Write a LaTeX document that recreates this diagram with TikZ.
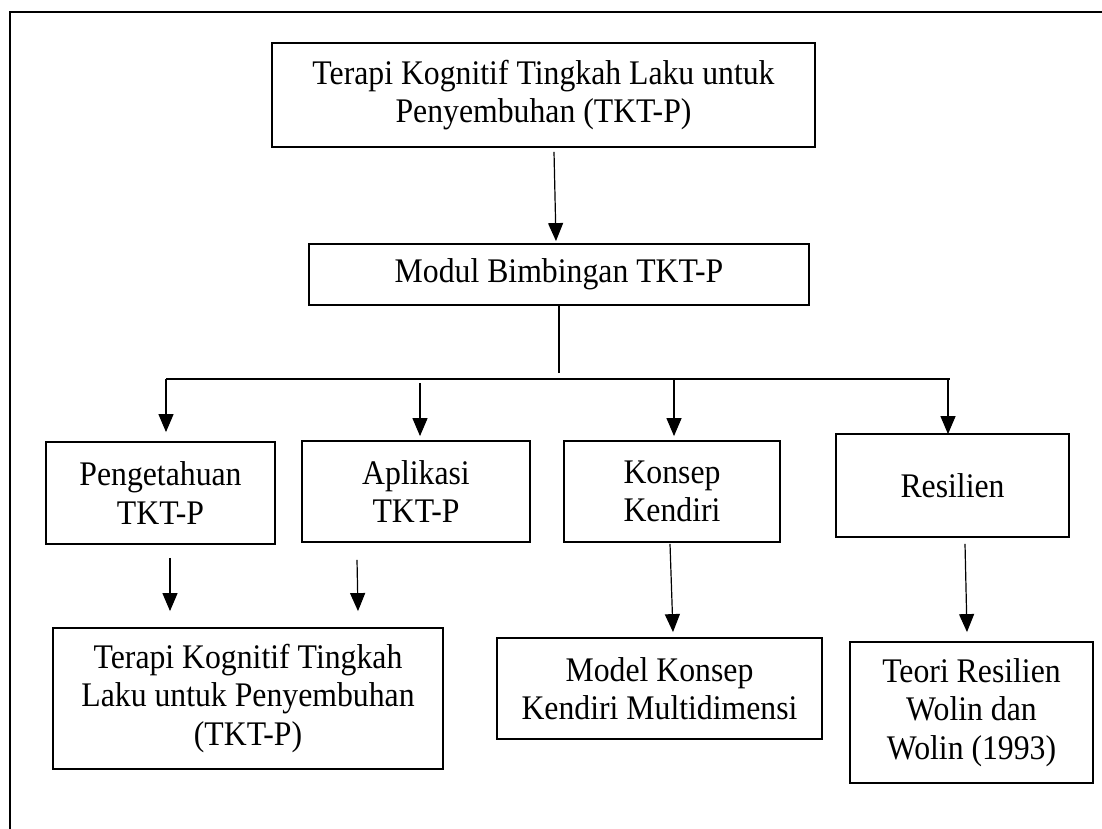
\documentclass[tikz,border=0pt]{standalone}
\usepackage{fontspec}
\setmainfont{Liberation Serif}[FakeStretch=0.92]
\usetikzlibrary{arrows.meta}
\begin{document}
\begin{tikzpicture}[x=1pt,y=-1pt,
  box/.style={draw, line width=1.8pt, inner sep=0pt, align=center,
    font=\fontsize{34.5}{38.5}\selectfont},
  arr/.style={line width=1.2pt, -{Triangle[width=15pt,length=18pt]}},
  conn/.style={line width=1.2pt},
  frame/.style={line width=2.6pt}]
\useasboundingbox (0,0) rectangle (1102,829);
% outer frame (only top and left edges visible)
\coordinate (fbl) at (10,829);
\coordinate (ftl) at (10,12);
\coordinate (ftr) at (1102,12);
\draw[frame] (fbl) -- (ftl) -- (ftr);

% boxes
\node[box, minimum width=543pt, minimum height=104pt] (top) at (543.5,95)
  {Terapi Kognitif Tingkah Laku untuk\\Penyembuhan (TKT-P)};
\node[box, minimum width=500pt, minimum height=61pt] (modul) at (559,274.5)
  {Modul Bimbingan TKT-P};
\node[box, minimum width=229pt, minimum height=102pt] (peng) at (160.5,493)
  {Pengetahuan\\TKT-P};
\node[box, minimum width=228pt, minimum height=101pt] (apl) at (416,491.5)
  {Aplikasi\\TKT-P};
\node[box, minimum width=216pt, minimum height=101pt] (kon) at (672,491.5)
  {Konsep\\Kendiri};
\node[box, minimum width=233pt, minimum height=103pt] (res) at (952.5,485.5)
  {Resilien};
\node[box, minimum width=390pt, minimum height=141pt] (tkt) at (248,698.5)
  {Terapi Kognitif Tingkah\\Laku untuk Penyembuhan\\(TKT-P)};
\node[box, minimum width=325pt, minimum height=101pt] (model) at (659.5,688.5)
  {Model Konsep\\Kendiri Multidimensi};
\node[box, minimum width=243pt, minimum height=141pt] (teori) at (971.5,712.5)
  {Teori Resilien\\Wolin dan\\Wolin (1993)};

% top -> modul
\draw[arr] ([xshift=10.5pt,yshift=-4pt]top.south) -- ([xshift=-3pt,yshift=2pt]modul.north);
% modul -> bus
\coordinate (busl) at (166,379);
\coordinate (busr) at (950,379);
\draw[conn] (modul.south) -- ++(0,67);
\draw[conn] (busl) -- (busr);
% bus -> second row
\coordinate (d1) at (166,379);
\coordinate (d2) at (420,383);
\coordinate (d3) at (674,380);
\coordinate (d4) at (948,380);
\draw[arr] (d1) -- ([xshift=5.5pt,yshift=9pt]peng.north);
\draw[arr] (d2) -- ([xshift=4pt,yshift=4pt]apl.north);
\draw[arr] (d3) -- ([xshift=2pt,yshift=4pt]kon.north);
\draw[arr] (d4) -- ([xshift=-4.5pt,yshift=-1pt]res.north);
% second row -> third row
\draw[arr] ([xshift=9.5pt,yshift=-13pt]peng.south) -- ([xshift=-78pt,yshift=16pt]tkt.north);
\draw[arr] ([xshift=-59pt,yshift=-17pt]apl.south) -- ([xshift=110pt,yshift=16pt]tkt.north);
\draw[arr] ([xshift=-2pt,yshift=-1pt]kon.south) -- ([xshift=13.5pt,yshift=5pt]model.north);
\draw[arr] ([xshift=12.5pt,yshift=-6pt]res.south) -- ([xshift=-4.5pt,yshift=9pt]teori.north);
\end{tikzpicture}
\end{document}
